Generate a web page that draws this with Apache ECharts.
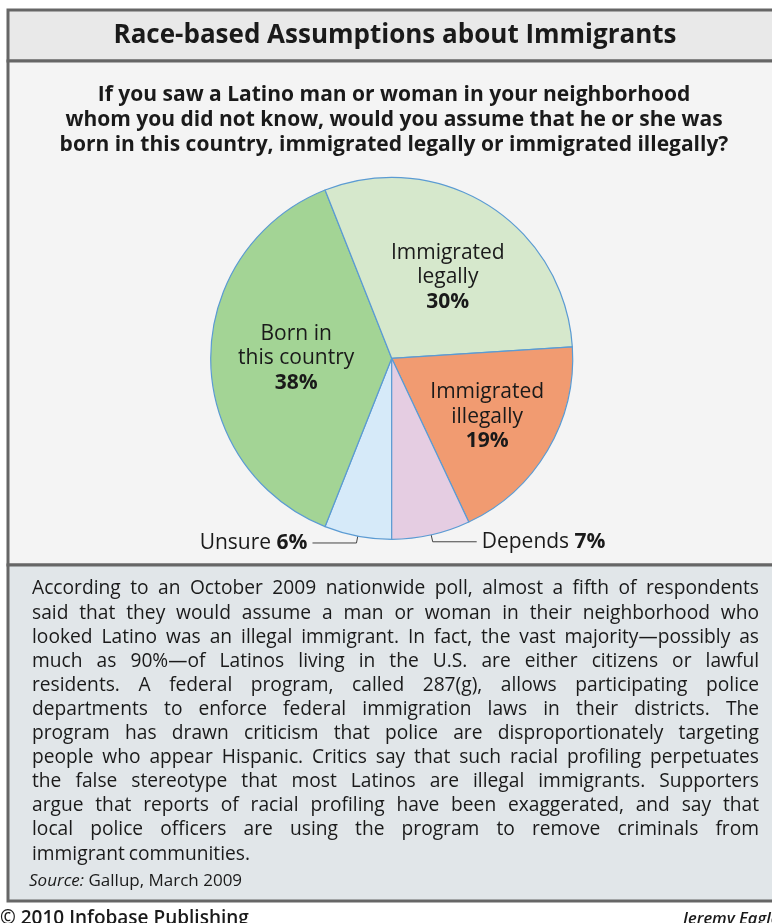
<!DOCTYPE html>
<html><head><meta charset="utf-8">
<script src="https://cdn.jsdelivr.net/npm/echarts@6/dist/echarts.min.js"></script>
<style>html,body{margin:0;padding:0;background:#fff}#c{width:772px;height:923px}</style>
</head><body><div id="c"></div>
<script>
// ---------- data ----------
const categories = ['Unsure', 'Born in this country', 'Immigrated legally', 'Immigrated illegally', 'Depends'];
const values = [6, 38, 30, 19, 7];
const labelText = [['Unsure'], ['Born in', 'this country'], ['Immigrated', 'legally'], ['Immigrated', 'illegally'], ['Depends']];
const labelPlacement = ['outside', 'inside', 'inside', 'inside', 'outside'];
const sliceColors = ['#d6eaf9', '#a3d495', '#d6e8cc', '#f19b71', '#e5cde2'];

const titleText = 'Race-based Assumptions about Immigrants';
const questionLines = [
  'If you saw a Latino man or woman in your neighborhood',
  'whom you did not know, would you assume that he or she was',
  'born in this country, immigrated legally or immigrated illegally?'
];
const bodyLines = [
  'According to an October 2009 nationwide poll, almost a fifth of respondents',
  'said that they would assume a man or woman in their neighborhood who',
  'looked Latino was an illegal immigrant. In fact, the vast majority\u2014possibly as',
  'much as 90%\u2014of Latinos living in the U.S. are either citizens or lawful',
  'residents. A federal program, called 287(g), allows participating police',
  'departments to enforce federal immigration laws in their districts. The',
  'program has drawn criticism that police are disproportionately targeting',
  'people who appear Hispanic. Critics say that such racial profiling perpetuates',
  'the false stereotype that most Latinos are illegal immigrants. Supporters',
  'argue that reports of racial profiling have been exaggerated, and say that',
  'local police officers are using the program to remove criminals from',
  'immigrant communities.'
];
const sourceLabel = 'Source:';
const sourceText = ' Gallup, March 2009';
const footerLeft = '\u00a9 2010 Infobase Publishing';
const footerRight = 'Jeremy Eagle';

// ---------- layout helpers ----------
const FONT = '"Open Sans", "Noto Sans", sans-serif';
const ctx = document.createElement('canvas').getContext('2d');
function measure(t, font) { ctx.font = font; return ctx.measureText(t).width; }

const bodyLeft = 32, bodyRight = 759, bodyWidth = bodyRight - bodyLeft;
const bodySize = 19.2;
const bodyFont = bodySize + 'px ' + FONT;
const spaceW = measure(' ', bodyFont);
let bodyScale = 1;
bodyLines.slice(0, -1).forEach(line => {
  const words = line.split(' ');
  const need = words.reduce((s, w) => s + measure(w, bodyFont), 0) + (words.length - 1) * spaceW * 0.72;
  bodyScale = Math.min(bodyScale, bodyWidth / need);
});

const graphics = [];
// frame panels
graphics.push({ type: 'rect', shape: { x: 8, y: 10, width: 800, height: 51 }, style: { fill: '#e9e9e9', stroke: '#666666', lineWidth: 3 }, z: 0 });
graphics.push({ type: 'rect', shape: { x: 8, y: 61, width: 800, height: 504 }, style: { fill: '#f4f4f4', stroke: '#666666', lineWidth: 3 }, z: 0 });
graphics.push({ type: 'rect', shape: { x: 8, y: 565, width: 800, height: 336 }, style: { fill: '#e1e6e9', stroke: '#666666', lineWidth: 3 }, z: 0 });

function txt(x, y, text, font, align, extra) {
  return Object.assign({
    type: 'text', x: x, y: y, z: 10,
    style: { text: text, font: font, fill: '#1a1a1a', align: align || 'left', verticalAlign: 'middle', textAlign: align || 'left', textVerticalAlign: 'middle' }
  }, extra || {});
}

graphics.push(txt(395, 36, titleText, 'bold 26px ' + FONT, 'center'));
questionLines.forEach((l, i) => graphics.push(txt(394, 95 + i * 25, l, 'bold 21px ' + FONT, 'center')));

bodyLines.forEach((line, i) => {
  const y = 589 + i * 24.1;
  const words = line.split(' ');
  const isLast = i === bodyLines.length - 1;
  const widths = words.map(w => measure(w, bodyFont) * bodyScale);
  const total = widths.reduce((s, w) => s + w, 0);
  const gap = isLast ? spaceW * 0.8 * bodyScale : (bodyWidth - total) / (words.length - 1);
  let x = bodyLeft;
  words.forEach((w, k) => {
    graphics.push(txt(x, y, w, bodyFont, 'left', { scaleX: bodyScale }));
    x += widths[k] + gap;
  });
});

graphics.push({
  type: 'text', x: 29, y: 881, z: 10,
  style: { text: '{i|' + sourceLabel + '}{r|' + sourceText + '}', verticalAlign: 'middle', textVerticalAlign: 'middle', fill: '#1a1a1a',
    rich: { i: { fontStyle: 'italic', fontSize: 17, fontFamily: FONT, fill: '#1a1a1a', color: '#1a1a1a' }, r: { fontSize: 17, fontFamily: FONT, fill: '#1a1a1a', color: '#1a1a1a' } } }
});
graphics.push(txt(0, 919, footerLeft, '600 19px ' + FONT, 'left'));
graphics.push(txt(683, 919, footerRight, 'italic 600 16.5px ' + FONT, 'left'));

// per-slice label nudges (layout only)
const labelNudge = [[0, 0], [-2, 0], [6, -2], [15, 11], [0, 0]];

const pieData = categories.map((c, i) => {
  const isIn = labelPlacement[i] === 'inside';
  return {
    name: c, value: values[i],
    itemStyle: { color: sliceColors[i] },
    label: {
      position: labelPlacement[i],
      formatter: isIn ? labelText[i].join('\n') + '\n{b|' + values[i] + '%}' : labelText[i][0] + ' {b|' + values[i] + '%}'
    },
    labelLine: { show: !isIn, length: 7, length2: 44, lineStyle: { color: '#444', width: 1 } }
  };
});

const chart = echarts.init(document.getElementById('c'), null, { renderer: 'canvas' });
chart.setOption({
  animation: false,
  backgroundColor: '#ffffff',
  graphic: graphics,
  series: [{
    type: 'pie', z: 5,
    center: [391.7, 358.3], radius: 181,
    startAngle: -90, clockwise: true,
    avoidLabelOverlap: false, silent: true,
    itemStyle: { borderColor: '#5b9bd3', borderWidth: 1.2 },
    label: {
      show: true, fontFamily: FONT, fontSize: 21, lineHeight: 24.5, color: '#1a1a1a',
      distanceToLabelLine: 5,
      rich: { b: { fontFamily: FONT, fontSize: 21, lineHeight: 24.5, fontWeight: 'bold', color: '#1a1a1a' } }
    },
    labelLayout: function (p) { const n = labelNudge[p.dataIndex]; return { dx: n[0], dy: n[1] }; },
    emphasis: { disabled: true },
    data: pieData
  }]
});
</script></body></html>
